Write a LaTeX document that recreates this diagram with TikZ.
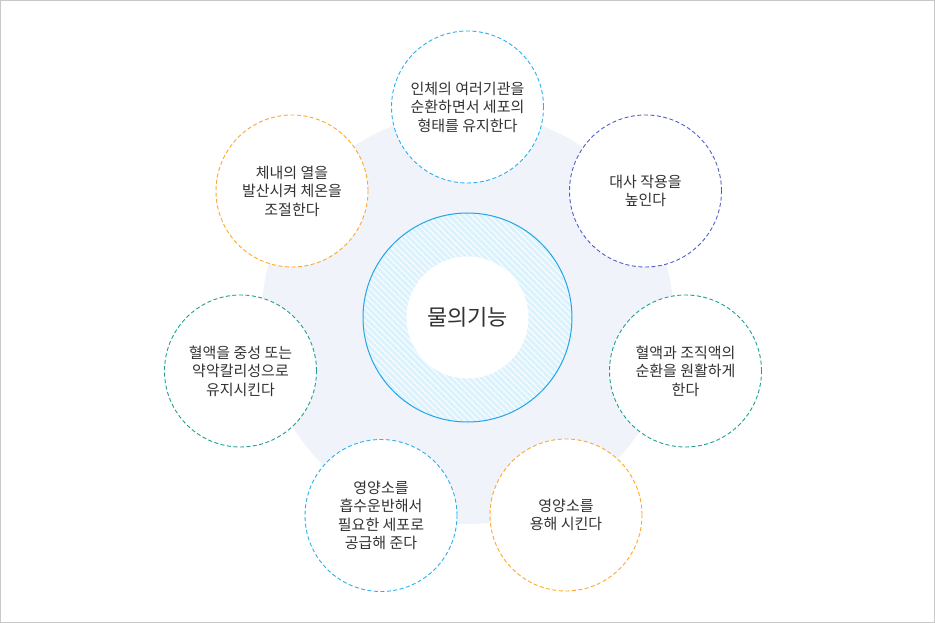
\documentclass[tikz,border=0pt]{standalone}
\usepackage{fontspec}
\setmainfont{Noto Sans CJK KR}
\definecolor{bgc}{RGB}{240,243,250}
\definecolor{framec}{RGB}{200,200,200}
\definecolor{ringfill}{RGB}{220,242,252}
\definecolor{ringline}{RGB}{33,166,232}
\definecolor{cblue}{RGB}{41,176,240}
\definecolor{cindigo}{RGB}{80,96,200}
\definecolor{cteal}{RGB}{30,160,145}
\definecolor{corange}{RGB}{255,168,40}
\definecolor{txt}{RGB}{50,50,50}
\tikzset{
  sat/.style={circle, draw=#1, dashed, dash pattern=on 4pt off 2.5pt, line width=0.9pt,
    fill=white, minimum size=152pt, inner sep=0pt, align=center, text=txt,
    font=\fontsize{15pt}{18.5pt}\selectfont},
}
\begin{document}
\begin{tikzpicture}[x=1pt,y=-1pt]
\useasboundingbox (0,0) rectangle (935,623);
\fill[white] (0,0) rectangle (935,623);
\draw[framec, line width=1pt] (0.5,0.5) rectangle (934.5,622.5);
% background disc
\fill[bgc] (467.5,318) circle[radius=206];
% centre ring
\fill[ringfill] (467.5,317.5) circle[radius=104.5];
\begin{scope}
  \clip (467.5,317.5) circle[radius=104.5];
  \foreach \k in {-40,...,40} {
    \draw[white, line width=0.9pt] ({467.5+\k*6.2-120},{317.5-120}) -- ({467.5+\k*6.2+120},{317.5+120});
  }
\end{scope}
\draw[ringline, line width=1pt] (467.5,317.5) circle[radius=104.5];
\node[circle, fill=white, minimum size=122pt, inner sep=0pt, text=txt,
  font=\fontsize{22pt}{26pt}\selectfont] (core) at (467.5,317.5) {물의기능};
% satellites
\node[sat=cblue] (s1) at (467.5,107) {인체의 여러기관을\\순환하면서 세포의\\형태를 유지한다};
\node[sat=cindigo] (s2) at (645.5,191) {대사 작용을\\높인다};
\node[sat=cteal] (s3) at (685.5,371) {혈액과 조직액의\\순환을 원활하게\\한다};
\node[sat=corange] (s4) at (566,515) {영양소를\\용해 시킨다};
\node[sat=cblue] (s5) at (381,515.5) {영양소를\\흡수운반해서\\필요한 세포로\\공급해 준다};
\node[sat=cteal] (s6) at (240.5,371) {혈액을 중성 또는\\약악칼리성으로\\유지시킨다};
\node[sat=corange] (s7) at (292,191) {체내의 열을\\발산시켜 체온을\\조절한다};
\end{tikzpicture}
\end{document}
